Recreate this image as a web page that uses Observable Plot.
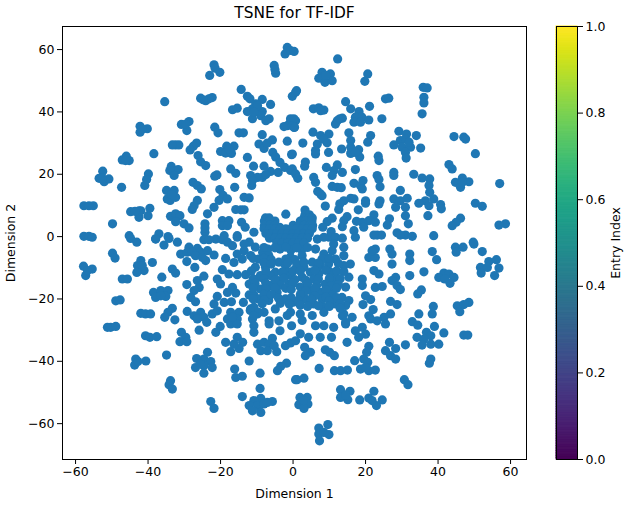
<!DOCTYPE html>
<html><head><meta charset="utf-8">
<script src="https://cdn.jsdelivr.net/npm/d3@7"></script>
<script src="https://cdn.jsdelivr.net/npm/@observablehq/plot@0.6"></script>
<style>
html,body{margin:0;padding:0;background:#fff}
#c{position:relative;width:632px;height:515px}
#c svg{position:absolute;left:0;top:0;background:transparent;overflow:visible}
</style></head><body><div id="c"></div>
<script>
const title = "TSNE for TF-IDF";
const xLabel = "Dimension 1", yLabel = "Dimension 2", barLabel = "Entry Index";
const xTicks = [-60,-40,-20,0,20,40,60];
const yTicks = [-60,-40,-20,0,20,40,60];
const barTicks = [0,0.2,0.4,0.6,0.8,1];
const upperLeft = [[-1.6,60.7],[-2.2,58.6],[-0.7,59.7],[0.3,59.4],[-5.2,54.9],[-4.8,52.4],[-5,53.6],[-21.8,55.1],[-23,51.7],[-20.2,52.7],[-21.5,54],[-35.4,43.3],[-25.5,44.4],[-24.1,43.6],[-22.3,44.6],[-23.2,44.2],[-24.8,43.9],[-14.3,47.2],[-12.6,45],[-11.9,44.2],[-8.5,44],[-6.2,42.4],[-10.3,42.6],[-11.2,41],[-12.6,40.1],[-9.8,40.1],[-8.5,40.1],[-11.2,37.8],[-8.9,38.8],[-6.6,37.8],[-7.5,37.2],[-9.8,42],[-10.8,39.9],[-16.7,40.7],[-15.4,41.2],[-0.2,45],[0.7,46.3],[-0.7,36.7],[-1.6,35.6],[0.7,37.2],[0.3,35],[-2.5,35.3],[-0.7,37.8],[-28.7,36.9],[-30.8,36],[-29.3,34],[-29.6,36.1],[-42.2,35.4],[-40.2,34.6],[-42.2,33.5],[-41.6,34.5],[-21.6,35.1],[-20.7,33.3],[-14.9,33.3],[-13.7,33.3],[-8.5,32.7],[-5.7,31],[-9.4,29.7],[-8,28.3],[-7.1,30],[-1.6,30.6],[-32.4,29.4],[-31.5,29.4],[-33.3,29.4],[-26.6,30],[-27.5,29],[-28.4,27.8],[-16.3,29],[-18.3,29],[-20,27.3],[-18.6,26.8],[-17,26.7],[-17.7,28.1],[-38.4,26.6],[-12.6,25.4],[-0.4,26.3],[-5.6,27],[-4.8,25.5],[-3.6,23.8],[-2.3,22.2],[-0.7,21.2],[-46,25.8],[-47.1,24.6],[-45.2,24.4],[-46.2,24.4],[-26.2,26],[-25.5,24],[-24.1,22.8],[-10.9,22.6],[-8,22.6],[-33.6,22.5],[-31.7,21.5],[-34,21.2],[-32.8,19.6],[-17.2,21.7],[-15.8,20.3],[-6.2,20.9],[-4.1,20.6],[-11.7,19.6],[-9.8,19],[-8.5,19],[-7.5,19.9],[-52.5,21],[-53.5,18.7],[-52.1,17.6],[-50.8,18.5],[-52.6,18.7],[-39.9,20.1],[-40.4,18.3],[-40.9,16.4],[-21.6,19.4],[-21,19.8],[-27.6,17.4],[-26.4,16.4],[-25.3,15.3],[-11.4,16.4],[-11.2,18],[-47.3,15.8],[-16.1,15.8],[-20.2,15.1],[-19.3,13.2],[-18.1,12.1],[-20.4,11.6],[-21.8,9.4],[-23.6,7.3],[-34.9,14.8],[-32.8,14.8],[-32.4,12.6],[-34.7,12.1],[-33.9,11.6],[-33.5,13.5],[-13.5,12.6],[-12.1,12.4],[-26.4,11.6],[-27.3,9.9],[-27.8,8.7],[-57.7,9.9],[-56.3,9.9],[-55.1,9.9],[-15.8,8.7],[-14.4,8.6],[-13.5,8.6],[-44.8,8],[-42.5,8.3],[-39.5,9.1],[-42.5,6.2],[-40,6.7],[-42,8.3],[-43.6,8.1],[-33.8,6.5],[-32.4,7.3],[-31.2,6.7],[-32.4,4.8],[-30.1,4.1],[-28.7,2.8],[-49.8,4.1],[-19.5,5.1],[-17.7,5.1],[-19.5,3.5],[-18.1,3.5],[-24.3,4.1],[-24.3,1.4],[-24.3,2.8],[-14.2,4.6],[-13.2,3],[-2,7.2],[-10.8,1.4],[-15.4,0.3],[-19,0.3],[-21.3,-0.8],[-57.7,0.1],[-56.3,0.1],[-55.4,-0.2],[-45.2,0.3],[-37,0.9],[-37.9,-0.7],[-34.5,0]];
const upperRight = [[12.3,57],[8,52.7],[10.3,52.2],[7.1,50.8],[8.8,49.5],[10.8,50],[9,51.7],[20.6,52.2],[19.8,49.8],[35.9,47.9],[37,47.7],[36.1,44.7],[36.1,42.9],[35.6,39.4],[0.96,46.8],[14.5,43.3],[15.9,41],[18.2,40.1],[17.2,38.3],[19,38.3],[20.9,37.4],[16.8,36.7],[18.6,36.7],[21.1,41.8],[25.5,44.2],[26.4,44.4],[5.6,41],[7.1,41.3],[8.5,40.6],[7.6,40.4],[0.2,37.8],[-0.2,35.6],[0.4,35.1],[13.6,38],[12.2,37.2],[11.7,36.1],[12.9,37.8],[24.5,37.8],[44.4,32.1],[47.1,31.9],[47.6,31.3],[29.2,33.8],[31.3,32.9],[34,32.4],[29.6,30.8],[31,31.3],[27.8,29.4],[30.1,28.7],[32.4,28.7],[35.2,28.4],[31,27],[31.2,25.2],[32,30.3],[5.5,33.5],[9.9,32.9],[7.6,32.4],[9.4,30.1],[6.7,29.7],[6.2,26.5],[6.2,27.6],[8.5,31.2],[2.7,30],[-0.2,26.5],[15.4,33.3],[15.9,30.8],[15.9,28.7],[15.9,26.7],[18.1,27.9],[18.4,25.5],[17.2,27],[21.4,32.4],[20.6,30.3],[13.4,28.1],[9.8,27],[23.5,25.8],[23.7,24.4],[50.3,26.6],[43,23.1],[43.9,21.7],[3.4,23.9],[3.2,22.6],[12.2,23],[9.2,22.2],[11.3,21.2],[13.6,20.6],[10.8,19.6],[17.2,21.5],[27.8,20.6],[27.8,19.6],[33.3,20],[-0.2,21.7],[0.7,20.1],[1.3,18.7],[23.2,19.6],[24,16],[23.7,18.3],[35.6,18.8],[37.7,18.5],[37.5,16.4],[37.7,14.2],[5.7,19],[6.2,17.4],[46.7,18.8],[44.8,17.4],[48.5,17.6],[46.2,15.8],[46.7,17.4],[57,17],[19.3,18],[16.8,17.1],[18.6,16.4],[19.1,15.3],[10.8,16.1],[12.2,15.8],[13.3,15.7],[29.6,14.8],[27.8,12.1],[31.5,12.3],[29.6,11.5],[28.3,9.4],[31,9.4],[31,6.7],[31.8,4.1],[7.6,13.7],[8,13.1],[6.8,14.5],[15.9,12.3],[14,11.5],[12.9,10.5],[16.8,12.1],[12.6,8.7],[20,11.5],[20,10.7],[24,11.5],[23.7,10.5],[8.9,9.8],[38.8,12.1],[36.5,11.5],[34.7,10.7],[37.5,9.9],[37.2,6.7],[40.7,10.3],[40.9,8.9],[50.3,10.7],[52.2,9.7],[18,8.6],[14.9,6.4],[14,5.1],[10.8,5.9],[9.4,4.8],[22.3,7],[20.9,5.1],[22.7,4.6],[19.1,4.6],[17.5,4.9],[19.5,3],[26.6,5.7],[26,3.7],[46.2,5.9],[45,4.6],[43.9,3.5],[58.6,4.1],[56.8,3.7],[13.6,3.2],[8.2,3],[10.5,1.6],[9.9,-0.2],[11.7,-0.2],[13.6,-0.5],[6.7,-0.8],[16.8,1.9],[17.2,-0.2],[23.2,0.5],[24.4,0.5],[22.3,0.5],[28.7,1.2],[31,0.5],[32.9,0.1],[29.6,0.5],[38.8,0.3],[49.7,-1.8]];
const lowerLeft = [[-44.8,-0.6],[-43.1,-1.8],[-37.9,-0.8],[-35.6,-2.7],[-34.2,-0.6],[-31.9,-1.8],[-24.6,-1],[-23.2,-1],[-19.5,-1],[-16.7,-2.9],[-18.1,-1.8],[-15.4,-0.2],[-12.1,-1.8],[-13.5,-2.4],[-28.7,-3.4],[-26.4,-3.8],[-31,-5.6],[-29.2,-5],[-27.8,-5],[-25.5,-5],[-29.3,-8],[-26.9,-6.1],[-24.1,-7.7],[-21.8,-5.9],[-27.1,-9.9],[-23.6,-4.5],[-25,-6.7],[-49.8,-5.3],[-49.1,-6.9],[-18.6,-7],[-16.3,-8.3],[-13.5,-4.5],[-14,-7.2],[-11.7,-6.1],[-15.4,-5.6],[-42,-7.7],[-38.8,-8.3],[-42.9,-9.3],[-41.1,-10.9],[-43.1,-11.5],[-41.6,-9.3],[-57.8,-9.5],[-55.4,-10.4],[-57.2,-12.5],[-56.7,-10.9],[-33.3,-10.4],[-32.4,-11.7],[-19.5,-10.6],[-17.7,-12],[-15.4,-12.2],[-13.1,-12.2],[-36.2,-13],[-47.1,-13.6],[-45.7,-13.6],[-24.6,-12.7],[-26.4,-14.1],[-29.3,-15.4],[-25.9,-16.3],[-27.3,-17.3],[-20.9,-13.6],[-20,-15.2],[-12.1,-15.2],[-11.2,-14.7],[-38.5,-17.9],[-36.5,-17.3],[-34.5,-17.3],[-37.9,-19.5],[-35.1,-19.2],[-36.5,-19],[-16.7,-16.3],[-18.1,-17.9],[-15.8,-18.1],[-12.1,-18.7],[-10.8,-18.7],[-28.2,-19.5],[-26.9,-20.9],[-20.9,-19.2],[-21.8,-21.6],[-19,-21.1],[-17,-20.9],[-22.3,-24.8],[-20.9,-23.8],[-48.9,-20.6],[-47.7,-20.3],[-13.7,-21.1],[-33.3,-23],[-34.5,-24.3],[-35.4,-25.9],[-29.2,-24],[-42,-24.6],[-40.7,-24.8],[-39.3,-24.8],[-25.5,-24.3],[-27.3,-25.4],[-24.6,-25.9],[-26.4,-26.4],[-23.8,-27.5],[-25.9,-30],[-32.6,-26.7],[-14.9,-24.3],[-17.2,-24.3],[-18.1,-26.4],[-15.4,-26.4],[-17.2,-28],[-15.4,-28],[-16.7,-25.9],[-11.7,-23.2],[-9.8,-24.8],[-8,-24.3],[-11.2,-26.4],[-10.8,-28.6],[-10.8,-30.7],[-6.6,-27],[-6.6,-28],[-3.9,-27],[-3.6,-30.2],[-0.4,-28.6],[-50.3,-29.1],[-48.9,-28.8],[-51.2,-29.1],[-20.1,-28.8],[-21.3,-30.7],[-40.7,-31.8],[-39.5,-32.3],[-37.6,-32.1],[-30.8,-30.7],[-29.6,-32.3],[-31.2,-33.7],[-29.3,-33.7],[-18.6,-33.9],[-15.4,-32.3],[-13.9,-33.9],[-17.2,-36.9],[-14.9,-35.9],[-16.3,-34.5],[-9.8,-34.5],[-5.7,-32.6],[-8,-33.9],[-6.6,-34.5],[-8.9,-36.6],[-7.1,-36.6],[-4.5,-36.9],[-5.2,-35],[-0.7,-34.1],[0.7,-33.4],[-34.9,-38],[-23.6,-37.1],[-24.6,-39.3],[-26.6,-39.1],[-22.7,-40.1],[-26.9,-42],[-24.6,-41.4],[-22.3,-42],[-24.6,-43.8],[-25.5,-40.9],[-43.4,-39.3],[-43.7,-41.2],[-40.6,-39.9],[-42.8,-40.1],[-12.1,-39.9],[-1.8,-40.6],[-3.4,-41.6],[-4.3,-43],[-16.1,-42.5],[-15.8,-45.2],[-14,-44.8],[-9.1,-43.8],[0.7,-45.9],[-33.8,-46.2],[-34.2,-47.5],[-33.3,-48.9],[-9.1,-48.7],[-14,-51.3],[-22.7,-52.9],[-21.8,-55.1],[-8.9,-51.9],[-10.8,-52.6],[-12.1,-54.2],[-9.8,-54.2],[-8,-53.7],[-11.2,-55.9],[-8.9,-56.4],[-5.7,-52.9],[-7.1,-53.2]];
const lowerRight = [[49.9,-2.4],[52.2,-4.8],[44.8,-3.4],[46.9,-3.4],[45,-5],[38.4,-4.8],[39.6,-7.4],[26.7,-4],[27.3,-5.6],[22.7,-4],[20.9,-6.7],[22.7,-6.7],[21.8,-4.5],[32.2,-5.6],[32.2,-7.7],[27.3,-8.8],[54,-8],[56.1,-7.4],[51.7,-9.9],[53.6,-9.9],[56.8,-10.1],[51.9,-11.7],[55.6,-12.5],[36.1,-11.3],[22.3,-10.9],[23.7,-12],[32.2,-12.5],[41.6,-11.7],[40.2,-13.1],[43,-12],[44.4,-13.1],[43.3,-15],[41.8,-13.6],[28.3,-13.1],[27.3,-14.1],[28.7,-15.7],[29.6,-17],[19.1,-13.6],[19.1,-15.7],[22.7,-16.3],[24.6,-16],[35.4,-17.1],[34.4,-18.4],[20,-19],[21.4,-20.2],[19.3,-21.8],[26.9,-20.8],[28.7,-21.8],[48.5,-21.1],[45.3,-22.2],[47.1,-21.8],[46,-24.1],[38.7,-22.4],[38.4,-24.8],[22.1,-23.4],[20.9,-25.4],[21.4,-26.4],[26.9,-24.8],[25.1,-25.9],[23.2,-27],[25.5,-28],[34.7,-24.8],[32.9,-27.3],[34.4,-28.4],[16.3,-25.9],[13.6,-25.4],[14.5,-28],[19.1,-29.1],[17.2,-30.2],[20,-31.3],[18.1,-32.3],[39,-28.8],[36.8,-30.7],[34.2,-32.3],[41.6,-30.9],[38,-31.8],[36.1,-32.9],[35.6,-34.8],[38,-34.5],[40.2,-34.5],[47.1,-31.6],[48.2,-31.6],[14.9,-33.9],[26.6,-33.9],[31,-34.7],[28.3,-35.9],[25.5,-36.6],[26.9,-38.2],[28.3,-39.3],[20.9,-35.2],[20.3,-37.1],[19.5,-39.3],[3.2,-35.5],[4.8,-37.1],[3.4,-38.2],[8.9,-36.3],[10.1,-37.1],[11.4,-38.2],[38,-39.3],[37.6,-40.6],[17,-39.8],[20.6,-40.3],[18.6,-42.5],[20.9,-43],[22.7,-42.8],[20,-42],[7.2,-42.3],[11.4,-43],[13.1,-43],[15,-42.8],[1.1,-45.9],[3,-45.4],[30.7,-45.9],[31.7,-47.5],[13.1,-49.1],[15.7,-49.6],[13.1,-51.6],[15.1,-52.3],[14.5,-50.8],[22.3,-49.6],[18.4,-52.4],[20.9,-51.8],[24.6,-52.4],[23,-54.2],[21.8,-52.6],[1.9,-51.6],[3.9,-51.6],[1.6,-53.9],[4.1,-53.7],[3,-55.1],[2.8,-52.6],[9.6,-60.3],[7.1,-61.4],[9.9,-63.5],[7.1,-63.3],[7.3,-65.5],[8.5,-62.8]];
const crescent = [[3.3,8.5],[3.3,7],[4.5,7],[-7.6,6],[-6.6,6],[3,6],[4.5,6],[5.3,6],[-7.9,5],[-6.5,5],[-5,5],[2,5],[3.5,5],[5.2,5],[-7.9,3.6],[-6.5,3.6],[-5,3.6],[-3.7,3],[0,3.6],[1.5,3.6],[3,3.6],[4.5,3.6],[5.4,3.6],[-8,2.5],[-6.5,2.5],[-5,2.5],[-3.5,2.5],[-2,2.5],[-0.5,2.5],[1,2.5],[2.5,2.5],[4,2.5],[5.3,2.5],[-7.5,1],[-6,1],[-4.5,1],[-3,1],[-1.5,1],[0,1],[1.5,1],[3,1],[4.5,1],[-6.5,-0.5],[-5,-0.5],[-3.5,-0.5],[-2,-0.5],[-0.5,-0.5],[1,-0.5],[2.5,-0.5],[4,-0.5],[-4.5,-2],[-3,-2],[-1.5,-2],[0,-2],[1.5,-2],[3,-2]];
const center = [[-10.4,-3.4],[6.2,-4],[11.2,-2.4],[8.5,-0.2],[10.8,-4.5],[14,-3.4],[-6.9,-4],[-3.6,-4],[-0.6,-4.4],[2.4,-4.2],[-8.4,-5],[-6.7,-6.1],[-9.5,-7.2],[-3.9,-8.2],[-0.7,-6.6],[2.5,-6.1],[5.3,-8.2],[8.5,-5.6],[11.7,-7.2],[14,-6.1],[15.8,-8.8],[14,-9.3],[-7.6,-9.8],[-10.4,-9.8],[-4.9,-11.4],[-2.1,-9.3],[0.7,-10.4],[3,-9.8],[7.5,-9.3],[9.8,-8.8],[10.3,-11.4],[7.1,-12],[4.8,-11.4],[-1.2,-11.4],[-6.2,-12.5],[-9,-12.5],[-9,-13],[-3.9,-14.1],[-0.7,-12.5],[2.5,-13],[5.7,-13.6],[8.9,-15.2],[11.7,-13.6],[14.5,-16.2],[15.4,-13],[-9,-16.8],[-6.2,-15.7],[-4.4,-17.9],[-1.2,-15.2],[2,-16.2],[4.8,-17.3],[7.5,-17.9],[10.8,-18.4],[13.5,-19.5],[15.4,-20.5],[-9.5,-20],[-6.7,-20.5],[-2.1,-20],[0.2,-21],[3.4,-20],[5.7,-21.6],[8.5,-22.7],[8,-20],[11.7,-21.6],[14.5,-22.1],[-10.8,-22.7],[-9.5,-24.3],[-11.8,-23.7],[-4.9,-23.2],[-0.7,-24.3],[-1.6,-25.3],[2,-24.8],[2.5,-26.9],[5.3,-25.3],[6.2,-28.6],[8.5,-28.6],[8.5,-24.3],[11.2,-29.1],[-10.8,-25.3],[2,-31.2],[4.3,-32.3],[7.5,-32.3],[10.6,-32.3],[-2.1,-35],[14,-24.8],[14.5,-27.5]];
const centerFill = [[-8,-3.5],[-5,-3.6],[-2,-3.4],[1,-3.6],[4,-3.5],[-11,-7],[-8,-7],[-6,-7.4],[-2,-7.2],[0.5,-7.4],[8,-7.2],[10,-7],[-8,-8.5],[-6,-8.8],[-1.5,-8.5],[1,-8.7],[3,-8.2],[7,-8.5],[12.5,-8.6],[-11.5,-11],[-7.5,-11],[-3,-11.4],[0,-11],[2,-11],[6,-10.8],[9,-10.8],[12,-11],[14,-11.2],[-11,-13.5],[-8,-13.6],[-5,-13.8],[-2.5,-13.4],[0.5,-13.8],[3.5,-14],[7,-13.6],[10,-13.4],[13,-13.5],[-10.5,-15],[-7.5,-15],[-3.5,-15.6],[0,-15],[4,-15.2],[6.5,-15.6],[10.5,-15.8],[12.5,-15.4],[-11,-16.5],[-7.5,-16.8],[-5,-16.4],[-2,-16.6],[-0.5,-17],[3.5,-17.4],[6,-16.6],[9,-17],[12,-16.6],[-8,-18.5],[-6,-18.6],[-4,-19.8],[-0.5,-19.6],[2,-18.6],[6,-19],[9,-19.4],[12,-19.6],[-11,-20],[-8,-20.4],[1.5,-20.4],[5,-20],[10,-20.6],[13,-21.6],[-8.5,-21.5],[-3.5,-21.4],[-1,-21.7],[2,-22],[4,-22.4],[7,-22.2],[10,-22.4],[13,-23]];
const levels = d3.range(0,1,1/256);

const points = [...upperLeft,...upperRight,...lowerLeft,...lowerRight,...crescent,...center,...centerFill];
const font = "'DejaVu Sans', sans-serif";
const main = Plot.plot({
  width:632, height:515, marginLeft:62, marginRight:106, marginTop:26, marginBottom:56,
  style:{fontFamily:font, fontSize:"12.5px", color:"#000", background:"transparent"},
  x:{domain:[-63.6,64.4]}, y:{domain:[-71.5,67.4]},
  marks:[
    Plot.dot(points,{x:d=>d[0],y:d=>d[1],r:4.6,fill:"#1f77b4",stroke:"none"}),
    Plot.frame({stroke:"#000",strokeWidth:1}),
    Plot.axisX({ticks:xTicks,tickSize:5,tickPadding:3,stroke:"#000",fill:"#000",fontSize:12.5,label:xLabel,labelAnchor:"center",labelArrow:"none",labelOffset:38}),
    Plot.axisY({ticks:yTicks,tickSize:5,tickPadding:3,stroke:"#000",fill:"#000",fontSize:12.5,label:yLabel,labelAnchor:"center",labelArrow:"none",labelOffset:56}),
    Plot.text([title],{frameAnchor:"top",dy:-13,fontSize:15.4,fill:"#000",lineAnchor:"middle"})
  ]
});
const bar = Plot.plot({
  width:632, height:515, marginLeft:556, marginRight:55, marginTop:26, marginBottom:56,
  style:{fontFamily:font, fontSize:"12.5px", color:"#000", background:"transparent"},
  x:{domain:[0,1],axis:null}, y:{domain:[0,1]},
  color:{scheme:"viridis",domain:[0,1]},
  marks:[
    Plot.rect(levels,{x1:()=>0,x2:()=>1,y1:d=>d,y2:d=>Math.min(1,d+1/256),fill:d=>d,stroke:d=>d,strokeWidth:1}),
    Plot.frame({stroke:"#000",strokeWidth:1}),
    Plot.axisY({anchor:"right",ticks:barTicks,tickFormat:d3.format(".1f"),tickSize:5,tickPadding:3,stroke:"#000",fill:"#000",fontSize:12.5,label:barLabel,labelAnchor:"center",labelArrow:"none",labelOffset:42})
  ]
});
const c = document.getElementById("c");
c.append(main, bar);
</script></body></html>
